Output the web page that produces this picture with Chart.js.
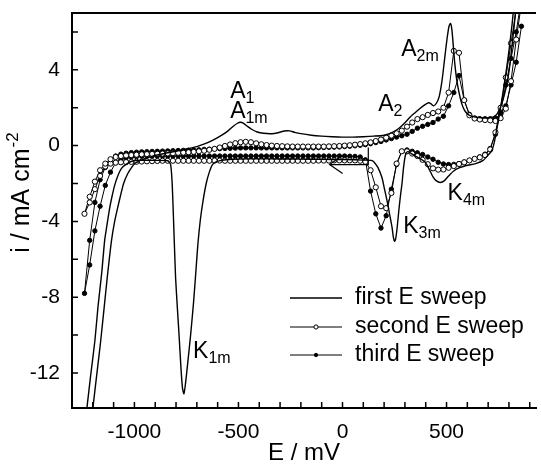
<!DOCTYPE html>
<html>
<head>
<meta charset="utf-8">
<script src="https://cdn.jsdelivr.net/npm/chart.js@4.4.1/dist/chart.umd.min.js"></script>
<style>
  html, body { margin: 0; padding: 0; background: #fff; }
  canvas { display: block; }
</style>
</head>
<body>
<canvas id="cv" width="541" height="470"></canvas>
<script>
// potentials (mV) of the cathodic and anodic branches of sweeps 2 and 3
const eCath = [860, 835, 810, 785, 760, 735, 710, 685, 660, 635, 610, 585, 560, 535, 510, 485, 460, 435, 410, 385,
  360, 335, 310, 285, 260, 235, 210, 185, 160, 135, 110, 85, 60, 35, 10, -15, -40, -65, -90, -115,
  -140, -165, -190, -215, -240, -265, -290, -315, -340, -365, -390, -415, -440, -465, -490, -515, -540, -565, -590, -615,
  -640, -665, -690, -715, -740, -765, -790, -815, -840, -865, -890, -915, -940, -965, -990, -1015, -1040, -1065, -1090, -1115,
  -1140, -1165, -1190, -1215, -1240];
const eAnod = [-1215, -1190, -1165, -1140, -1115, -1090, -1065, -1040, -1015, -990, -965, -940, -915, -890, -865, -840, -815, -790, -765, -740,
  -715, -690, -665, -640, -615, -590, -565, -540, -515, -490, -465, -440, -415, -390, -365, -340, -315, -290, -265, -240,
  -215, -190, -165, -140, -115, -90, -65, -40, -15, 10, 35, 60, 85, 110, 135, 160, 185, 210, 235, 260,
  285, 310, 335, 360, 385, 410, 435, 460, 485, 510, 535, 560, 585, 610, 635, 660, 685, 710, 735, 760,
  785, 810, 835, 860];

// second sweep (open circles), mA cm-2
const i2Cath = [9.0, 7.2, 5.4, 3.6, 2.0, 0.7, -0.2, -0.5, -0.62, -0.7, -0.78, -0.88, -0.97, -1.08, -1.17, -1.26, -1.27, -1.2, -0.98, -0.75,
  -0.55, -0.42, -0.3, -0.3, -0.95, -2.5, -3.3, -3.2, -2.2, -1.3, -0.85, -0.8, -0.78, -0.78, -0.78, -0.78, -0.78, -0.79, -0.79, -0.79,
  -0.8, -0.8, -0.8, -0.8, -0.8, -0.8, -0.8, -0.8, -0.8, -0.8, -0.8, -0.8, -0.8, -0.8, -0.8, -0.8, -0.8, -0.8, -0.79, -0.79,
  -0.8, -0.8, -0.8, -0.8, -0.8, -0.8, -0.8, -0.8, -0.8, -0.8, -0.81, -0.82, -0.83, -0.84, -0.85, -0.86, -0.87, -0.88, -0.9, -0.95,
  -1.1, -1.6, -2.3, -3.0, -3.6];
const i2Anod = [-2.7, -1.9, -1.3, -0.95, -0.72, -0.6, -0.55, -0.52, -0.5, -0.48, -0.46, -0.45, -0.44, -0.43, -0.42, -0.41, -0.4, -0.38, -0.37, -0.35,
  -0.33, -0.3, -0.27, -0.22, -0.17, -0.1, -0.02, 0.06, 0.13, 0.18, 0.2, 0.18, 0.12, 0.07, 0.03, 0.0, -0.02, -0.03, -0.04, -0.05,
  -0.05, -0.05, -0.05, -0.05, -0.05, -0.05, -0.04, -0.03, -0.02, 0.0, 0.02, 0.05, 0.08, 0.12, 0.17, 0.24, 0.32, 0.42, 0.53, 0.65,
  0.79, 1.0, 1.22, 1.4, 1.5, 1.62, 1.72, 1.8, 2.0, 2.8, 5.0, 4.9, 2.4, 1.6, 1.43, 1.38, 1.35, 1.33, 1.3, 1.45,
  1.95, 3.4, 5.6, 7.5];

// third sweep (filled circles)
const i3Cath = [7.8, 6.0, 4.6, 3.2, 1.8, 0.6, -0.15, -0.45, -0.6, -0.7, -0.79, -0.87, -0.95, -0.99, -1.0, -0.97, -0.88, -0.72, -0.6, -0.47,
  -0.38, -0.3, -0.23, -0.3, -1.0, -2.3, -3.7, -4.35, -3.6, -2.4, -0.75, -0.6, -0.57, -0.56, -0.55, -0.55, -0.55, -0.55, -0.55, -0.55,
  -0.55, -0.55, -0.55, -0.55, -0.55, -0.55, -0.55, -0.55, -0.55, -0.55, -0.55, -0.55, -0.55, -0.55, -0.55, -0.55, -0.55, -0.55, -0.55, -0.55,
  -0.55, -0.55, -0.55, -0.55, -0.55, -0.55, -0.55, -0.55, -0.55, -0.55, -0.55, -0.55, -0.56, -0.56, -0.58, -0.6, -0.65, -0.72, -0.9, -1.4,
  -2.1, -3.2, -4.5, -6.3, -7.8];
const i3Anod = [-5.0, -3.0, -1.8, -1.15, -0.75, -0.55, -0.45, -0.4, -0.37, -0.35, -0.33, -0.32, -0.31, -0.3, -0.29, -0.28, -0.27, -0.26, -0.25, -0.24,
  -0.23, -0.22, -0.2, -0.19, -0.17, -0.16, -0.15, -0.14, -0.13, -0.12, -0.12, -0.12, -0.12, -0.12, -0.12, -0.12, -0.12, -0.12, -0.12, -0.12,
  -0.12, -0.12, -0.12, -0.12, -0.11, -0.1, -0.09, -0.08, -0.07, -0.05, -0.03, -0.01, 0.02, 0.05, 0.1, 0.16, 0.22, 0.3, 0.37, 0.45,
  0.52, 0.6, 0.75, 0.92, 1.02, 1.12, 1.22, 1.4, 1.55, 2.1, 2.8, 3.7, 2.4, 1.65, 1.45, 1.42, 1.42, 1.42, 1.45, 1.65,
  2.1, 3.2, 4.4, 6.3];

// first sweep (plain line), one full cycle starting near +140 mV
const e1 = [140, 60, -50, -150, -250, -350, -450, -530, -580, -605, -625, -640, -655, -670, -683, -695, -705, -716, -730, -745,
  -755, -762, -769, -776, -786, -794, -802, -808, -814, -819, -826, -840, -900, -960, -1005, -1035, -1062, -1080, -1095, -1108,
  -1119, -1132, -1143, -1157, -1175, -1190, -1210, -1229, -1250, -1245, -1215, -1200, -1180, -1162, -1145, -1129, -1110, -1095, -1081, -1066,
  -1052, -1033, -1014, -995, -976, -940, -900, -850, -800, -750, -700, -660, -620, -580, -550, -525, -505, -490, -475, -455,
  -435, -410, -380, -340, -310, -280, -255, -230, -200, -150, -100, -50, 0, 50, 100, 150, 200, 240, 270, 295,
  324, 350, 371, 395, 414, 426, 438, 452, 465, 478, 490, 502, 512, 519, 526, 533, 540, 550, 562, 575,
  590, 610, 643, 690, 724, 745, 765, 786, 800, 812, 824, 835, 850, 855, 830, 815, 800, 785, 770, 755,
  742, 730, 718, 700, 676, 640, 595, 560, 533, 510, 490, 470, 450, 435, 419, 405, 395, 375, 357, 335,
  315, 306, 300, 293, 286, 278, 271, 262, 255, 250, 244, 238, 226, 214, 200, 190, 170, 150, 140];
const i1 = [-0.78, -0.75, -0.73, -0.72, -0.71, -0.7, -0.7, -0.72, -0.77, -0.85, -1.0, -1.4, -2.0, -2.9, -3.9, -5.2, -6.7, -8.3, -10.0, -11.6,
  -12.6, -13.1, -12.8, -11.8, -9.9, -8.5, -7.0, -5.2, -3.3, -1.9, -1.0, -0.8, -0.78, -0.78, -0.8, -0.95, -1.2, -1.6, -2.1, -2.7,
  -3.3, -4.2, -5.0, -6.7, -8.5, -10.3, -12.1, -13.9, -15.6, -16.0, -15.6, -13.9, -12.0, -10.3, -8.5, -6.8, -5.0, -4.0, -3.3, -2.6,
  -2.0, -1.5, -1.16, -0.92, -0.8, -0.65, -0.52, -0.4, -0.3, -0.18, -0.05, 0.1, 0.3, 0.55, 0.78, 1.02, 1.18, 1.23, 1.17, 1.0,
  0.85, 0.72, 0.65, 0.63, 0.68, 0.77, 0.78, 0.7, 0.63, 0.55, 0.5, 0.47, 0.45, 0.45, 0.47, 0.5, 0.55, 0.7, 0.9, 1.15,
  1.5, 1.75, 1.95, 2.15, 2.26, 2.2, 2.1, 2.25, 2.6, 3.4, 4.5, 5.6, 6.3, 6.45, 6.1, 5.2, 4.3, 3.4, 2.7, 2.15,
  1.8, 1.6, 1.5, 1.46, 1.5, 1.7, 2.2, 3.05, 3.9, 5.0, 6.2, 7.4, 9.0, 9.6, 8.0, 6.4, 5.0, 3.8, 2.7, 1.7,
  0.9, 0.2, -0.25, -0.5, -0.78, -0.95, -1.05, -1.18, -1.35, -1.6, -1.85, -1.95, -1.85, -1.65, -1.3, -1.0, -0.85, -0.7, -0.6, -0.45,
  -0.32, -0.4, -0.63, -1.2, -2.0, -2.7, -3.4, -4.4, -4.95, -5.05, -4.8, -4.3, -3.6, -2.9, -2.2, -1.7, -1.15, -0.85, -0.78];

// peak labels (anchor in E / i units)
const peakMain = ['A', 'A', 'A', 'A', 'K', 'K', 'K'];
const peakSub = ['1', '1m', '2', '2m', '3m', '4m', '1m'];
const peakE = [-540, -540, 172, 282, 292, 505, -718];
const peakI = [2.53, 1.47, 1.84, 4.74, -4.63, -2.89, -11.2];

// start arrow of the first sweep: [E, i] corners
const arrowE = [124, 124, -62];
const arrowI = [-0.1, -1.0, -1.0];

const FONT = '"Liberation Sans", Arial, sans-serif';

function pairs(es, is) {
    return es.map(function(e, k) { return { x: e, y: is[k] }; });
}

const data1 = pairs(e1, i1);
const data2 = pairs(eCath, i2Cath).concat(pairs(eAnod, i2Anod));
const data3 = pairs(eCath, i3Cath).concat(pairs(eAnod, i3Anod));

const decorPlugin = {
    id: 'decor',
    afterDraw: function(chart) {
        const ctx = chart.ctx;
        const a = chart.chartArea;
        const xs = chart.scales.x, ys = chart.scales.y;
        ctx.save();
        ctx.strokeStyle = '#000';
        ctx.fillStyle = '#000';

        // inward tick marks
        ctx.lineWidth = 1.5;
        ctx.beginPath();
        xs.ticks.forEach(function(t, k) {
            const px = xs.getPixelForTick(k);
            if (px < a.left - 0.5 || px > a.right + 0.5) return;
            ctx.moveTo(px, a.bottom);
            ctx.lineTo(px, a.bottom - 6);
        });
        ys.ticks.forEach(function(t, k) {
            const py = ys.getPixelForTick(k);
            if (py < a.top - 0.5 || py > a.bottom + 0.5) return;
            ctx.moveTo(a.left, py);
            ctx.lineTo(a.left + 6, py);
        });
        ctx.stroke();

        // top frame line
        ctx.lineWidth = 2;
        ctx.beginPath();
        ctx.moveTo(a.left - 1, a.top);
        ctx.lineTo(a.right, a.top);
        ctx.stroke();

        // arrow
        ctx.lineWidth = 1.2;
        ctx.beginPath();
        arrowE.forEach(function(e, k) {
            const px = xs.getPixelForValue(e), py = ys.getPixelForValue(arrowI[k]);
            if (k === 0) ctx.moveTo(px, py); else ctx.lineTo(px, py);
        });
        const tipX = xs.getPixelForValue(arrowE[2]), tipY = ys.getPixelForValue(arrowI[2]);
        ctx.moveTo(tipX + 13, tipY - 9);
        ctx.lineTo(tipX, tipY);
        ctx.lineTo(tipX + 13, tipY + 9);
        ctx.stroke();

        // peak labels
        ctx.textBaseline = 'alphabetic';
        ctx.textAlign = 'left';
        peakMain.forEach(function(t, k) {
            const px = xs.getPixelForValue(peakE[k]), py = ys.getPixelForValue(peakI[k]);
            ctx.font = '23px ' + FONT;
            ctx.fillText(t, px, py);
            const w = ctx.measureText(t).width;
            ctx.font = '16px ' + FONT;
            ctx.fillText(peakSub[k], px + w, py + 5);
        });

        // y axis title with superscript
        ctx.translate(22, 193);
        ctx.rotate(-Math.PI / 2);
        ctx.textBaseline = 'middle';
        ctx.font = '25px ' + FONT;
        const main = 'i / mA cm';
        const wm = ctx.measureText(main).width;
        ctx.font = '17px ' + FONT;
        const ws = ctx.measureText('-2').width;
        const x0 = -(wm + ws) / 2;
        ctx.font = '25px ' + FONT;
        ctx.fillText(main, x0, 0);
        ctx.font = '17px ' + FONT;
        ctx.fillText('-2', x0 + wm + 1, -9);
        ctx.restore();

        // legend
        ctx.save();
        const lx = a.left + 218, ly = [a.top + 285, a.top + 314, a.top + 342];
        chart.data.datasets.forEach(function(ds, k) {
            ctx.strokeStyle = '#000';
            ctx.lineWidth = ds.borderWidth;
            ctx.beginPath();
            ctx.moveTo(lx, ly[k]);
            ctx.lineTo(lx + 52, ly[k]);
            ctx.stroke();
            if (ds.pointRadius > 0) {
                ctx.beginPath();
                ctx.arc(lx + 26, ly[k], ds.pointRadius - 0.5, 0, Math.PI * 2);
                ctx.fillStyle = ds.pointBackgroundColor;
                ctx.fill();
                ctx.lineWidth = 1;
                ctx.stroke();
            }
            ctx.fillStyle = '#000';
            ctx.font = '23px ' + FONT;
            ctx.textBaseline = 'middle';
            ctx.fillText(ds.label, lx + 65, ly[k]);
        });
        ctx.restore();
    }
};

const ctx = document.getElementById('cv').getContext('2d');
const chart = new Chart(ctx, {
    type: 'scatter',
    data: {
        datasets: [{
            label: 'first E sweep',
            data: data1,
            showLine: true,
            borderColor: '#000',
            borderWidth: 1.4,
            pointRadius: 0,
            tension: 0.2
        }, {
            label: 'second E sweep',
            data: data2,
            showLine: true,
            borderColor: '#000',
            borderWidth: 1,
            pointRadius: 2.6,
            pointBorderWidth: 1,
            pointBorderColor: '#000',
            pointBackgroundColor: '#fff'
        }, {
            label: 'third E sweep',
            data: data3,
            showLine: true,
            borderColor: '#000',
            borderWidth: 1,
            pointRadius: 2.2,
            pointBorderWidth: 1,
            pointBorderColor: '#000',
            pointBackgroundColor: '#000'
        }]
    },
    options: {
        responsive: false,
        animation: false,
        devicePixelRatio: 1,
        layout: { padding: { top: 13, right: 1, left: 0, bottom: 0 } },
        scales: {
            x: {
                type: 'linear',
                min: -1300,
                max: 930,
                afterFit: function(s) {
                    s.height = 62;
                    s.paddingLeft = 0;
                    s.paddingRight = 0;
                },
                border: { color: '#000', width: 2 },
                grid: { display: true, drawOnChartArea: false, drawTicks: false },
                ticks: {
                    stepSize: 100,
                    includeBounds: false,
                    autoSkip: false,
                    maxRotation: 0,
                    padding: 12,
                    color: '#000',
                    font: { family: FONT, size: 21 },
                    callback: function(v) { return v % 500 === 0 ? String(v) : ''; }
                },
                title: {
                    display: true,
                    text: 'E / mV',
                    color: '#000',
                    font: { family: FONT, size: 24 },
                    padding: { top: 0, bottom: 2 }
                }
            },
            y: {
                type: 'linear',
                min: -13.85,
                max: 7,
                afterFit: function(s) {
                    s.width = 72;
                    s.paddingTop = 0;
                    s.paddingBottom = 0;
                },
                border: { color: '#000', width: 2 },
                grid: { display: true, drawOnChartArea: false, drawTicks: false },
                ticks: {
                    stepSize: 2,
                    includeBounds: false,
                    autoSkip: false,
                    padding: 12,
                    color: '#000',
                    font: { family: FONT, size: 21 },
                    callback: function(v) { return v % 4 === 0 ? String(v) : ''; }
                }
            }
        },
        plugins: {
            legend: { display: false },
            tooltip: { enabled: false }
        }
    },
    plugins: [decorPlugin]
});
</script>
</body>
</html>
